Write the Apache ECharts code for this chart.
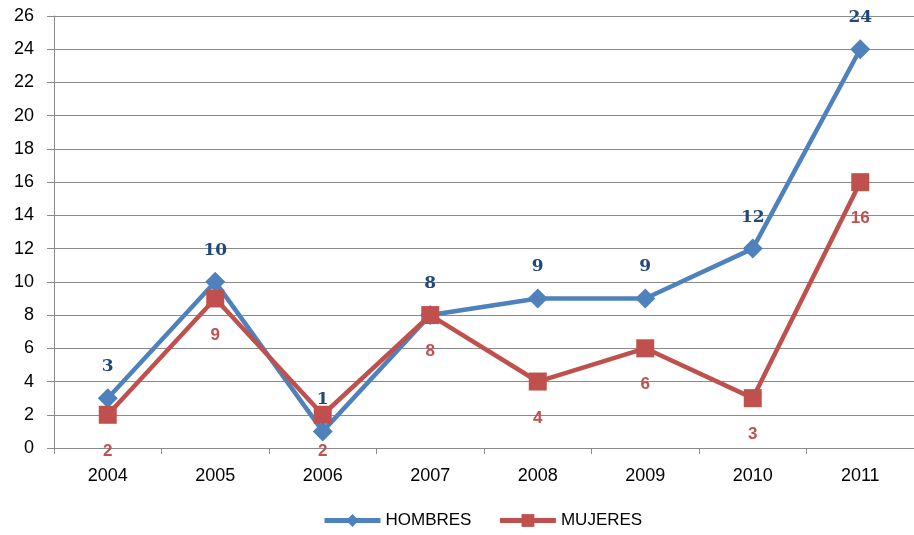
<!DOCTYPE html>
<html>
<head>
<meta charset="utf-8">
<script src="https://cdn.jsdelivr.net/npm/echarts@6/dist/echarts.min.js"></script>
<style>
  html, body { margin: 0; padding: 0; background: #fff; }
  #chart { width: 914px; height: 535px; }
</style>
</head>
<body>
<div id="chart"></div>
<script>
// Years on the category axis
const years = ['2004', '2005', '2006', '2007', '2008', '2009', '2010', '2011'];
// Counts per year
const hombres = [3, 10, 1, 8, 9, 9, 12, 24];
const mujeres = [2, 9, 2, 8, 4, 6, 3, 16];

const BLUE = '#4F81BD';
const RED = '#C0504D';
const GRID = '#8a8a8a';

const chart = echarts.init(document.getElementById('chart'), null, { renderer: 'canvas' });

chart.setOption({
  animation: false,
  backgroundColor: '#fff',
  grid: { left: 54, right: -10, top: 16, bottom: 87, containLabel: false },
  legend: {
    bottom: 1,
    left: 317,
    itemWidth: 56,
    itemHeight: 16,
    itemGap: 26,
    textStyle: { fontFamily: 'Liberation Sans', fontSize: 17, color: '#000' },
    data: [
      { name: 'HOMBRES', lineStyle: { width: 5 } },
      { name: 'MUJERES', lineStyle: { width: 5 } }
    ]
  },
  xAxis: {
    type: 'category',
    data: years,
    boundaryGap: true,
    axisLine: { lineStyle: { color: GRID, width: 1 } },
    axisTick: { show: true, alignWithLabel: false, length: 6, lineStyle: { color: GRID } },
    axisLabel: { fontFamily: 'Liberation Sans', fontSize: 18, color: '#000', margin: 19 }
  },
  yAxis: {
    type: 'value',
    min: 0,
    max: 26,
    interval: 2,
    axisLine: { show: true, lineStyle: { color: GRID, width: 1 } },
    axisTick: { show: true, length: 7, lineStyle: { color: GRID } },
    splitLine: { lineStyle: { color: GRID, width: 1 } },
    axisLabel: { fontFamily: 'Liberation Sans', fontSize: 18, color: '#000', margin: 20 }
  },
  series: [
    {
      name: 'HOMBRES',
      type: 'line',
      data: hombres,
      symbol: 'diamond',
      symbolSize: 20,
      lineStyle: { color: BLUE, width: 4.5 },
      itemStyle: { color: BLUE },
      label: {
        show: true,
        position: 'top',
        distance: 13,
        color: '#1F497D',
        fontFamily: 'DejaVu Serif',
        fontWeight: 'bold',
        fontSize: 17
      },
      z: 2
    },
    {
      name: 'MUJERES',
      type: 'line',
      data: mujeres,
      symbol: 'rect',
      symbolSize: 18,
      lineStyle: { color: RED, width: 4.5 },
      itemStyle: { color: RED },
      label: {
        show: true,
        position: 'bottom',
        distance: 19,
        color: RED,
        fontFamily: 'Liberation Sans',
        fontWeight: 'bold',
        fontSize: 17
      },
      z: 3
    }
  ]
});
</script>
</body>
</html>
